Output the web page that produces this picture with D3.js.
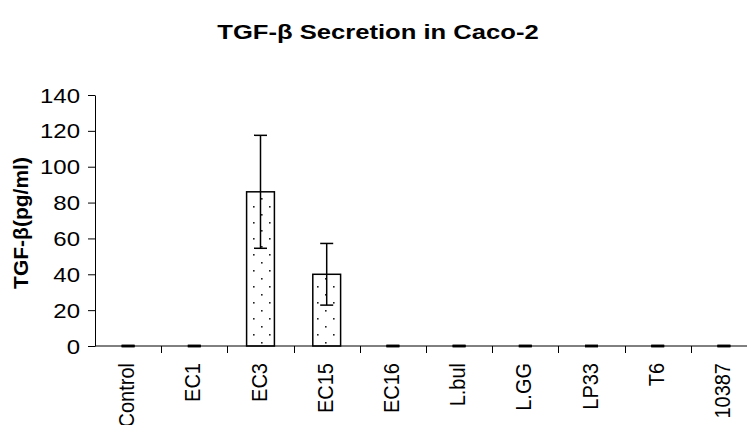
<!DOCTYPE html>
<html>
<head>
<meta charset="utf-8">
<script src="https://cdn.jsdelivr.net/npm/d3@7"></script>
<style>
  html, body { margin: 0; padding: 0; background: #fff; }
  svg { display: block; }
  text { font-family: "Liberation Sans", Arial, sans-serif; fill: #000; }
</style>
</head>
<body>
<svg id="chart" width="747" height="425"></svg>
<script>
// Groups tested
const categories = ["Control", "EC1", "EC3", "EC15", "EC16", "L.bul", "L.GG", "LP33", "T6", "10387"];
// Mean TGF-β secretion (pg/ml)
const values = [0, 0, 86, 40, 0, 0, 0, 0, 0, 0];
// Standard deviation for each group
const errors = [0, 0, 31.5, 17.2, 0, 0, 0, 0, 0, 0];
// Y axis tick values
const yTicks = [0, 20, 40, 60, 80, 100, 120, 140];

const svg = d3.select("#chart");
const W = 747;
const plotLeft = 95, plotTop = 95, plotBottom = 346;
const step = 66.2;
const fontFamily = "Liberation Sans, Arial, sans-serif";

const x = d3.scaleBand()
  .domain(categories)
  .range([plotLeft, plotLeft + step * categories.length])
  .paddingInner(0).paddingOuter(0);

const y = d3.scaleLinear().domain([0, 140]).range([plotBottom, plotTop]);

// Dotted fill pattern for the bars
const defs = svg.append("defs");
const pat = defs.append("pattern")
  .attr("id", "dots")
  .attr("patternUnits", "userSpaceOnUse")
  .attr("width", 16).attr("height", 16)
  .attr("x", 1).attr("y", 2);
pat.append("rect").attr("width", 16).attr("height", 16).attr("fill", "#fff");
pat.append("rect").attr("x", 4).attr("y", 4).attr("width", 1.6).attr("height", 1.6).attr("fill", "#222");
pat.append("rect").attr("x", 12).attr("y", 12).attr("width", 1.6).attr("height", 1.6).attr("fill", "#222");

// Title (wide bold face)
svg.append("text")
  .attr("transform", "translate(378,39) scale(1.28,1)")
  .attr("text-anchor", "middle")
  .attr("font-size", 20).attr("font-weight", "bold")
  .text("TGF-β Secretion in Caco-2");

// Y axis label
svg.append("text")
  .attr("transform", `translate(27.5,223) rotate(-90)`)
  .attr("text-anchor", "middle")
  .attr("font-size", 21).attr("font-weight", "bold")
  .text("TGF-β(pg/ml)");

// Y axis
const yAxis = svg.append("g")
  .attr("transform", `translate(${plotLeft},0)`)
  .call(d3.axisLeft(y).tickValues(yTicks).tickSize(7).tickPadding(0).tickSizeOuter(0));
yAxis.select(".domain").attr("stroke", "#000");
yAxis.selectAll(".tick line").attr("stroke", "#000");
yAxis.selectAll(".tick text")
  .attr("font-size", 20)
  .attr("font-family", fontFamily)
  .attr("fill", "#000")
  .attr("x", 0)
  .attr("dy", "0.35em")
  .attr("transform", "translate(-15,0) scale(1.2,1)");

// Bars
const bw = x.bandwidth() * 0.42;
svg.append("g").selectAll("rect")
  .data(categories)
  .join("rect")
  .attr("x", (d) => x(d) + (x.bandwidth() - bw) / 2)
  .attr("y", (d, i) => y(values[i]))
  .attr("width", bw)
  .attr("height", (d, i) => y(0) - y(values[i]))
  .attr("fill", "url(#dots)")
  .attr("stroke", "#000")
  .attr("stroke-width", 1.5);

// X axis (line runs across the full width)
const xAxis = svg.append("g")
  .attr("transform", `translate(0,${plotBottom})`)
  .call(d3.axisBottom(x).tickSize(0).tickPadding(0).tickSizeOuter(0));
xAxis.select(".domain").remove();
svg.append("line")
  .attr("x1", plotLeft).attr("x2", W)
  .attr("y1", plotBottom).attr("y2", plotBottom)
  .attr("stroke", "#000").attr("stroke-width", 1);
// Tick marks between categories
svg.append("g").selectAll("line")
  .data(categories.slice(1))
  .join("line")
  .attr("x1", (d) => Math.round(x(d)) + 0.5)
  .attr("x2", (d) => Math.round(x(d)) + 0.5)
  .attr("y1", plotBottom).attr("y2", plotBottom + 7)
  .attr("stroke", "#000");
xAxis.selectAll(".tick text")
  .attr("font-size", 20)
  .attr("font-family", fontFamily)
  .attr("fill", "#000")
  .attr("text-anchor", "end")
  .attr("x", 0).attr("y", 0).attr("dy", null)
  .attr("transform", "translate(6,17) scale(1.1,1) rotate(-90)");

// Error bars
const cap = 13;
const eb = svg.append("g").attr("stroke", "#000").attr("stroke-width", 1.5);
categories.forEach((c, i) => {
  const cx = x(c) + x.bandwidth() / 2;
  const hi = y(values[i] + errors[i]);
  const lo = y(Math.max(0, values[i] - errors[i]));
  eb.append("line").attr("x1", cx).attr("x2", cx).attr("y1", hi).attr("y2", lo);
  eb.append("line").attr("x1", cx - cap / 2).attr("x2", cx + cap / 2).attr("y1", hi).attr("y2", hi)
    .attr("stroke-width", errors[i] === 0 ? 2.5 : 1.5);
  eb.append("line").attr("x1", cx - cap / 2).attr("x2", cx + cap / 2).attr("y1", lo).attr("y2", lo)
    .attr("stroke-width", errors[i] === 0 ? 2.5 : 1.5);
});
</script>
</body>
</html>
